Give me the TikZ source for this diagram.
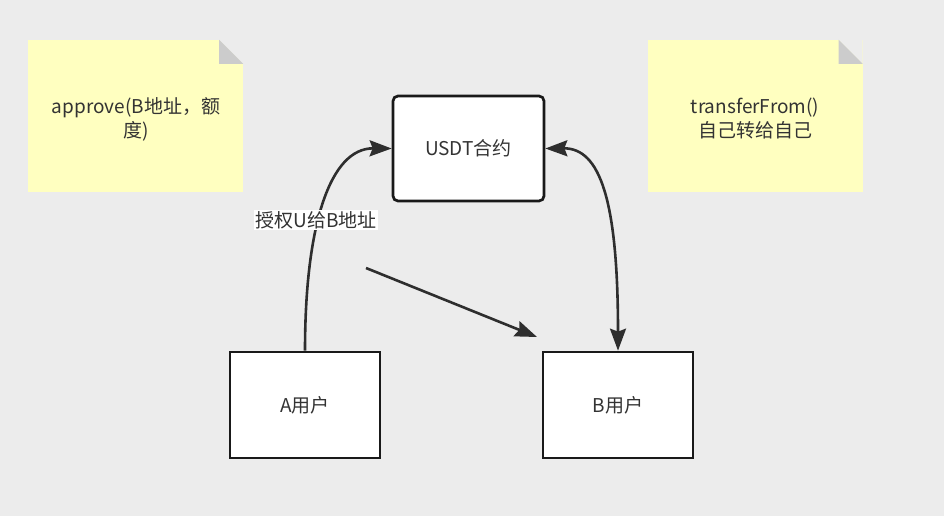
\documentclass[tikz,border=0pt]{standalone}
\usepackage{fontspec}
\setmainfont{Noto Sans CJK SC}
\usetikzlibrary{arrows.meta}
\definecolor{bg}{HTML}{ECECEC}
\definecolor{noteyellow}{HTML}{FFFFC0}
\definecolor{foldgray}{HTML}{CCCCCC}
\definecolor{txt}{HTML}{333333}
\tikzset{
  every node/.style={font=\fontsize{19}{24}\selectfont, text=txt},
  notebox/.style={fill=noteyellow, minimum width=215pt, minimum height=152pt, inner sep=0pt},
  notetext/.style={align=center, inner sep=0pt},
  userbox/.style={draw=black!90, line width=2.7pt, fill=white, minimum width=150pt, minimum height=106pt},
  usdtbox/.style={userbox, rounded corners=5pt, minimum width=151pt, minimum height=105pt},
  tip/.style={Stealth[length=22pt,width=16pt,inset=3pt]},
  conn/.style={draw=black!82, line width=2.6pt, -{Stealth[length=22pt,width=16pt,inset=3pt]}},
  conn2/.style={conn, {Stealth[length=22pt,width=16pt,inset=3pt]}-{Stealth[length=22pt,width=16pt,inset=3pt]}},
  lbl/.style={fill=white, inner sep=1.5pt}
}
\begin{document}
\begin{tikzpicture}[x=1pt,y=-1pt]
\fill[bg] (0,0) rectangle (944,516);
\useasboundingbox (0,0) rectangle (944,516);
% notes
\node[notebox] (n1) at (135.5,116) {};
\fill[bg] (n1.north east) -- ++(-24,0) -- ++(24,24) -- cycle;
\fill[foldgray] ([xshift=-24pt]n1.north east) -- ++(0,24) -- ++(24,0) -- cycle;
\node[notetext] (n1t) at (136,119) {approve(B地址，额\\度)};
\node[notebox] (n2) at (755,116) {};
\fill[bg] (n2.north east) -- ++(-24,0) -- ++(24,24) -- cycle;
\fill[foldgray] ([xshift=-24pt]n2.north east) -- ++(0,24) -- ++(24,0) -- cycle;
\node[notetext] (n2t) at (755,119) {transferFrom()\\自己转给自己};
% boxes
\node[usdtbox] (usdt) at (468.5,148.5) {USDT合约};
\node[userbox] (a) at (305,405) {A用户};
\node[userbox] (b) at (618,405) {B用户};
% connectors
\draw[conn] (a.north) .. controls (305,225) and (330,148) .. (usdt.west);
\node[lbl] (l1) at (316,220) {授权U给B地址};
\coordinate (d1) at (366,268);
\coordinate (d2) at (537,337);
\draw[conn] (d1) -- (d2);
\draw[conn2] (usdt.east) .. controls (600,148) and (618,200) .. (b.north);
\end{tikzpicture}
\end{document}
